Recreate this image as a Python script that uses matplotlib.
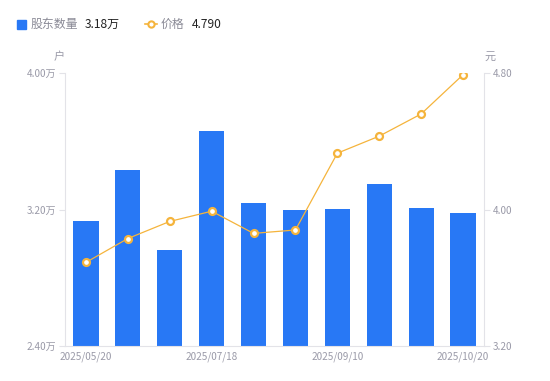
import matplotlib
matplotlib.use("Agg")
import matplotlib.pyplot as plt
from matplotlib.lines import Line2D

plt.rcParams['font.family'] = ['Noto Sans CJK SC', 'DejaVu Sans']

dates = ["2025/05/20", "2025/06/10", "2025/06/30", "2025/07/18", "2025/07/31",
         "2025/08/20", "2025/09/10", "2025/09/20", "2025/09/30", "2025/10/20"]
holders = [3.13, 3.43, 2.96, 3.66, 3.24, 3.20, 3.205, 3.35, 3.21, 3.18]  # 万户
price = [3.69, 3.83, 3.93, 3.99, 3.86, 3.88, 4.33, 4.43, 4.56, 4.79]
left_ticks = [2.40, 3.20, 4.00]
right_ticks = [3.20, 4.00, 4.80]
shown_labels = ["2025/05/20", "2025/07/18", "2025/09/10", "2025/10/20"]

BLUE = '#2878f5'
ORANGE = '#f5b43c'
GRAY = '#9a9aa8'
AXC = '#e3e3e8'

fig = plt.figure(figsize=(5.5, 3.81), dpi=100)
ax = fig.add_axes([65/550, 1-346/381, (484-65)/550, (346-73)/381])
ax2 = ax.twinx()

x = list(range(len(dates)))
ax.bar(x, holders, width=0.6, color=BLUE, zorder=2)
ax.set_xlim(-0.5, len(dates)-0.5)
ax.set_ylim(left_ticks[0], left_ticks[-1])
ax.set_yticks(left_ticks)
ax.set_yticklabels([f"{v:.2f}万" for v in left_ticks])

ax2.plot(x, price, color=ORANGE, lw=0.9, marker='o', ms=5, mfc='white',
         mec=ORANGE, mew=1.6, zorder=3)
ax2.set_ylim(right_ticks[0], right_ticks[-1])
ax2.set_yticks(right_ticks)
ax2.set_yticklabels([f"{v:.2f}" for v in right_ticks])

ax.set_xticks([dates.index(d) for d in shown_labels])
ax.set_xticklabels(shown_labels)

for a in (ax, ax2):
    for s in a.spines.values():
        s.set_visible(False)
ax.spines['left'].set_visible(True)
ax.spines['left'].set_color(AXC)
ax.spines['bottom'].set_visible(True)
ax.spines['bottom'].set_color(AXC)
ax2.spines['right'].set_visible(True)
ax2.spines['right'].set_color(AXC)

ax.tick_params(axis='y', length=4, color=AXC, labelsize=7.2, labelcolor=GRAY, pad=2)
ax2.tick_params(axis='y', length=4, color=AXC, labelsize=7.2, labelcolor=GRAY, pad=2)
ax.tick_params(axis='x', length=0, labelsize=7.2, labelcolor=GRAY, pad=4)

fig.text(59/550, 1-57/381, "户", fontsize=8, color=GRAY, ha='center', va='center')
fig.text(490/550, 1-57/381, "元", fontsize=8, color=GRAY, ha='center', va='center')

# legend
fig.patches.append(plt.Rectangle((17/550, 1-29/381), 9/550, 9/381, transform=fig.transFigure,
                                 color=BLUE, figure=fig))
fig.text(31/550, 1-24/381, "股东数量", fontsize=8.6, color='#8a8a96', va='center')
fig.text(85/550, 1-24/381, f"{holders[-1]:.2f}万", fontsize=8.6, color='#222222', va='center')
fig.lines.append(Line2D([145/550, 157/550], [1-24/381, 1-24/381], transform=fig.transFigure,
                        color=ORANGE, lw=1.2, marker='o', markevery=[0], ms=0))
fig.lines.append(Line2D([151/550], [1-24/381], transform=fig.transFigure,
                        color=ORANGE, marker='o', ms=4.5, mfc='white', mec=ORANGE, mew=1.5, lw=0))
fig.text(161/550, 1-24/381, "价格", fontsize=8.6, color='#8a8a96', va='center')
fig.text(192/550, 1-24/381, f"{price[-1]:.3f}", fontsize=8.6, color='#222222', va='center')

fig.savefig("out.png", dpi=100)
